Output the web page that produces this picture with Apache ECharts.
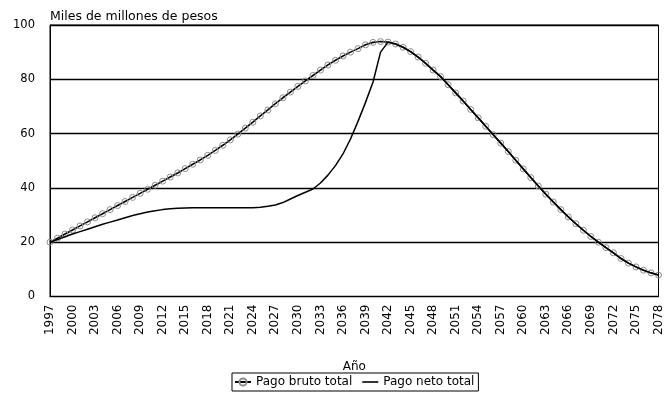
<!DOCTYPE html>
<html>
<head>
<meta charset="utf-8">
<script src="https://cdn.jsdelivr.net/npm/echarts@6/dist/echarts.min.js"></script>
<style>
  html, body { margin: 0; padding: 0; background: #fff; }
  #chart { width: 666px; height: 400px; }
</style>
</head>
<body>
<div id="chart"></div>
<script>
// Years 1997..2078
const years = [];
for (let y = 1997; y <= 2078; y++) years.push(String(y));

// Pago bruto total (miles de millones de pesos)
const pagoBruto = [
  20.0, 21.5, 23.0, 24.5, 26.0, 27.5, 29.0, 30.5, 32.0, 33.5,
  35.0, 36.5, 38.0, 39.5, 41.0, 42.5, 44.0, 45.5, 47.1, 48.7,
  50.3, 52.0, 53.8, 55.7, 57.7, 59.8, 62.0, 64.2, 66.5, 68.7,
  71.0, 73.2, 75.3, 77.4, 79.4, 81.4, 83.4, 85.3, 87.0, 88.6,
  90.0, 91.3, 92.7, 93.6, 93.9, 93.7, 93.0, 91.8, 90.2, 88.2,
  85.9, 83.4, 81.0, 78.0, 75.0, 72.0, 68.9, 65.8, 62.7, 59.6,
  56.5, 53.4, 50.2, 47.0, 43.8, 40.7, 37.7, 34.8, 32.0, 29.3,
  26.8, 24.4, 22.1, 20.0, 18.0, 16.1, 14.0, 12.3, 10.9, 9.7,
  8.7, 7.9
];

// Pago neto total (miles de millones de pesos)
const pagoNeto = [
  20.0, 21.0, 22.0, 23.0, 23.9, 24.8, 25.7, 26.6, 27.4, 28.2,
  29.0, 29.8, 30.5, 31.1, 31.6, 32.0, 32.3, 32.5, 32.6, 32.7,
  32.7, 32.7, 32.7, 32.7, 32.7, 32.7, 32.7, 32.7, 32.9, 33.2,
  33.7, 34.6, 35.9, 37.2, 38.4, 39.6, 41.8, 44.7, 48.2, 52.5,
  58.0, 64.5, 71.5, 79.0, 90.0, 93.7, 93.0, 91.8, 90.2, 88.2,
  85.9, 83.4, 81.0, 78.0, 75.0, 72.0, 68.9, 65.8, 62.7, 59.6,
  56.5, 53.4, 50.2, 47.0, 43.8, 40.7, 37.7, 34.8, 32.0, 29.3,
  26.8, 24.4, 22.1, 20.0, 18.0, 16.1, 14.0, 12.3, 10.9, 9.7,
  8.7, 7.9
];

const seriesNames = ['Pago bruto total', 'Pago neto total'];
const yTicks = { min: 0, max: 100, interval: 20 };
const yTitle = 'Miles de millones de pesos';
const xTitle = 'Año';

const FONT = 'DejaVu Sans';
const chart = echarts.init(document.getElementById('chart'), null, { renderer: 'canvas' });

chart.setOption({
  animation: false,
  backgroundColor: '#fff',
  textStyle: { fontFamily: FONT, color: '#000' },
  grid: {
    left: 50, right: 7.5, top: 25, bottom: 103.5,
    show: true, borderColor: '#000', borderWidth: 1, backgroundColor: 'transparent'
  },
  legend: {
    data: [
      { name: seriesNames[0] },
      // plain line swatch for the net-payment series
      { name: seriesNames[1], icon: 'path://M0,0 L16,0 L16,1.6 L0,1.6 Z' }
    ],
    left: 232, top: 373,
    orient: 'horizontal',
    itemWidth: 16, itemHeight: 9, itemGap: 10,
    symbolKeepAspect: true,
    padding: [3, 4, 3, 2],
    borderColor: '#000', borderWidth: 1,
    textStyle: { fontFamily: FONT, fontSize: 12, color: '#000' }
  },
  xAxis: {
    type: 'category',
    data: years,
    boundaryGap: false,
    name: xTitle,
    nameLocation: 'middle',
    nameGap: 64,
    nameTextStyle: { fontFamily: FONT, fontSize: 12, color: '#000' },
    axisLine: { show: true, lineStyle: { color: '#000', width: 1 } },
    axisTick: { show: false },
    axisLabel: {
      interval: 2, rotate: 90, margin: 8,
      fontFamily: FONT, fontSize: 12, color: '#000'
    },
    splitLine: { show: false }
  },
  yAxis: {
    type: 'value',
    min: yTicks.min, max: yTicks.max, interval: yTicks.interval,
    name: yTitle,
    nameLocation: 'end',
    nameGap: 2,
    nameTextStyle: { fontFamily: FONT, fontSize: 12.5, color: '#000', align: 'left', verticalAlign: 'bottom' },
    axisLine: { show: true, lineStyle: { color: '#000', width: 1 } },
    axisTick: { show: false },
    axisLabel: { margin: 15, fontFamily: FONT, fontSize: 11.5, color: '#000', padding: [5, 0, 0, 0] },
    splitLine: { show: true, lineStyle: { color: '#000', width: 1.4 } }
  },
  series: [
    {
      name: seriesNames[0],
      type: 'line',
      data: pagoBruto,
      symbol: 'circle',
      symbolSize: 6,
      showAllSymbol: true,
      lineStyle: { color: '#000', width: 1.6 },
      itemStyle: { color: 'rgba(255,255,255,0)', borderColor: '#8c8c8c', borderWidth: 1 },
      z: 2
    },
    {
      name: seriesNames[1],
      type: 'line',
      data: pagoNeto,
      symbol: 'none',
      lineStyle: { color: '#000', width: 1.5 },
      itemStyle: { color: '#000' },
      z: 3
    }
  ]
});
</script>
</body>
</html>
